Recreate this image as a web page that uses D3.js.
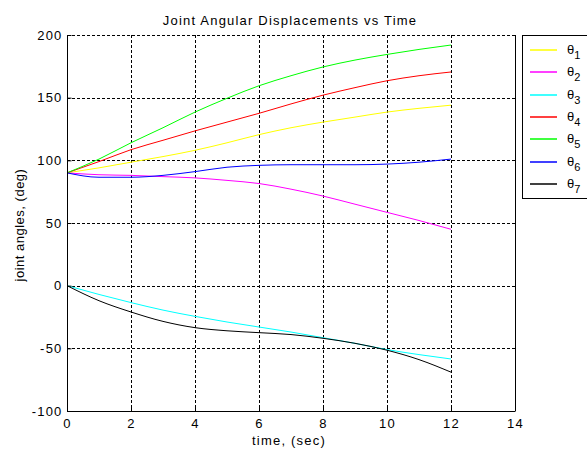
<!DOCTYPE html>
<html>
<head>
<meta charset="utf-8">
<script src="https://cdn.jsdelivr.net/npm/d3@7"></script>
<style>
  body { margin: 0; background: #fff; }
  text { font-family: "Liberation Sans", Arial, sans-serif; fill: #000; }
</style>
</head>
<body>
<svg id="svg" width="587" height="450"></svg>
<script>
// time samples (sec)
var time = [0, 1, 2, 3, 4, 5, 6, 7, 8, 9, 10, 11, 12];

// joint angles (deg)
var theta1 = [90, 94, 98.5, 103, 108, 114, 120.5, 126, 130.5, 134.5, 138.5, 141.5, 144];
var theta2 = [90, 88.5, 88, 87, 86, 84, 81.5, 77, 71.5, 65, 58.5, 52, 45];
var theta3 = [0, -7, -13.5, -19.5, -24.5, -29, -33, -37, -41.5, -46, -51, -55, -58.5];
var theta4 = [90, 99, 108.5, 116, 123.5, 130.5, 137.5, 145, 152, 158, 163.5, 167.5, 170.5];
var theta5 = [90, 101, 114, 126, 138.5, 149.5, 159.5, 167.5, 174.5, 180, 184.5, 188.5, 192];
var theta6 = [90, 86.5, 86.5, 88, 91, 94.5, 96, 96.5, 96.5, 96.5, 97, 98.5, 101];
var theta7 = [0, -12, -21, -28.5, -33.5, -36, -37.5, -39, -42, -46, -51.5, -59, -69];

var seriesNames = ["1", "2", "3", "4", "5", "6", "7"];
var seriesColors = ["#ffff00", "#ff00ff", "#00ffff", "#ff0000", "#00ff00", "#0000ff", "#000000"];
var seriesValues = [theta1, theta2, theta3, theta4, theta5, theta6, theta7];

var xTicks = [0, 2, 4, 6, 8, 10, 12, 14];
var yTicks = [-100, -50, 0, 50, 100, 150, 200];

var svg = d3.select("#svg");

// plot box (window.top is reserved, so use other names)
var pLeft = 67, pRight = 515, pTop = 35, pBottom = 411;

var x = d3.scaleLinear().domain([0, 14]).range([pLeft, pRight]);
var y = d3.scaleLinear().domain([-100, 200]).range([pBottom, pTop]);

// grid lines (dashed)
var grid = svg.append("g").attr("class", "grid");
grid.selectAll("line.vx")
    .data(xTicks.slice(1, -1))
    .enter().append("line")
    .attr("x1", function(d) { return Math.round(x(d)) + 0.5; })
    .attr("x2", function(d) { return Math.round(x(d)) + 0.5; })
    .attr("y1", pTop)
    .attr("y2", pBottom)
    .attr("stroke", "#000")
    .attr("stroke-dasharray", "3,2");
grid.selectAll("line.hy")
    .data(yTicks.slice(1))
    .enter().append("line")
    .attr("y1", function(d) { return Math.round(y(d)) + 0.5; })
    .attr("y2", function(d) { return Math.round(y(d)) + 0.5; })
    .attr("x1", pLeft)
    .attr("x2", pRight)
    .attr("stroke", "#000")
    .attr("stroke-dasharray", "3,2");

// the curves
var line = d3.line()
    .x(function(d, i) { return x(time[i]); })
    .y(function(d) { return y(d); })
    .curve(d3.curveMonotoneX);

svg.append("g")
    .selectAll("path")
    .data(seriesValues)
    .enter().append("path")
    .attr("d", line)
    .attr("fill", "none")
    .attr("stroke", function(d, i) { return seriesColors[i]; })
    .attr("stroke-width", 1);

// axes - plain hyphen minus like the original
var fmt = function(d) { return String(d); };
var xAxis = d3.axisBottom(x).tickValues(xTicks).tickFormat(fmt).tickSize(-4).tickPadding(7);
var yAxis = d3.axisLeft(y).tickValues(yTicks).tickFormat(fmt).tickSize(-4).tickPadding(5);

function styleTicks(g) {
    g.selectAll("text")
        .attr("font-family", "Liberation Sans, Arial, sans-serif")
        .style("font-size", "13px")
        .style("letter-spacing", "1.2px");
}

svg.append("g")
    .attr("transform", "translate(0," + (pBottom + 0.5) + ")")
    .call(xAxis)
    .call(function(g) {
        g.select(".domain").attr("d", "M" + pLeft + ",0H" + pRight);
        styleTicks(g);
    });

svg.append("g")
    .attr("transform", "translate(" + (pLeft + 0.5) + ",0)")
    .call(yAxis)
    .call(function(g) {
        g.select(".domain").attr("d", "M0," + pTop + "V" + pBottom);
        styleTicks(g);
    });

// right border
svg.append("line")
    .attr("x1", pRight + 0.5).attr("x2", pRight + 0.5)
    .attr("y1", pTop).attr("y2", pBottom)
    .attr("stroke", "#000");

// title and labels
svg.append("text")
    .attr("x", 290)
    .attr("y", 25)
    .attr("text-anchor", "middle")
    .style("font-size", "13px")
    .style("letter-spacing", "1.2px")
    .text("Joint Angular Displacements vs Time");

svg.append("text")
    .attr("x", 289)
    .attr("y", 445)
    .attr("text-anchor", "middle")
    .style("font-size", "13px")
    .style("letter-spacing", "1.2px")
    .text("time, (sec)");

svg.append("text")
    .attr("transform", "translate(24," + 225 + ") rotate(-90)")
    .attr("text-anchor", "middle")
    .style("font-size", "13px")
    .style("letter-spacing", "0.5px")
    .text("joint angles, (deg)");

// legend
var legend = svg.append("g");
legend.append("rect")
    .attr("x", 522.5)
    .attr("y", 35.5)
    .attr("width", 80)
    .attr("height", 163)
    .attr("fill", "#fff")
    .attr("stroke", "#000");

var rows = legend.selectAll("g.row")
    .data(seriesNames)
    .enter().append("g")
    .attr("transform", function(d, i) { return "translate(0," + Math.round(50 + i * 22.3) + ")"; });

rows.append("line")
    .attr("x1", 530).attr("x2", 557)
    .attr("y1", 0).attr("y2", 0)
    .attr("stroke-width", 1.5)
    .attr("stroke", function(d, i) { return seriesColors[i]; });

var lbl = rows.append("text")
    .attr("x", 567)
    .attr("y", 4)
    .style("font-size", "13px");
lbl.append("tspan").text("\u03b8");
lbl.append("tspan")
    .attr("dy", 5)
    .style("font-size", "11px")
    .text(function(d) { return d; });
</script>
</body>
</html>
